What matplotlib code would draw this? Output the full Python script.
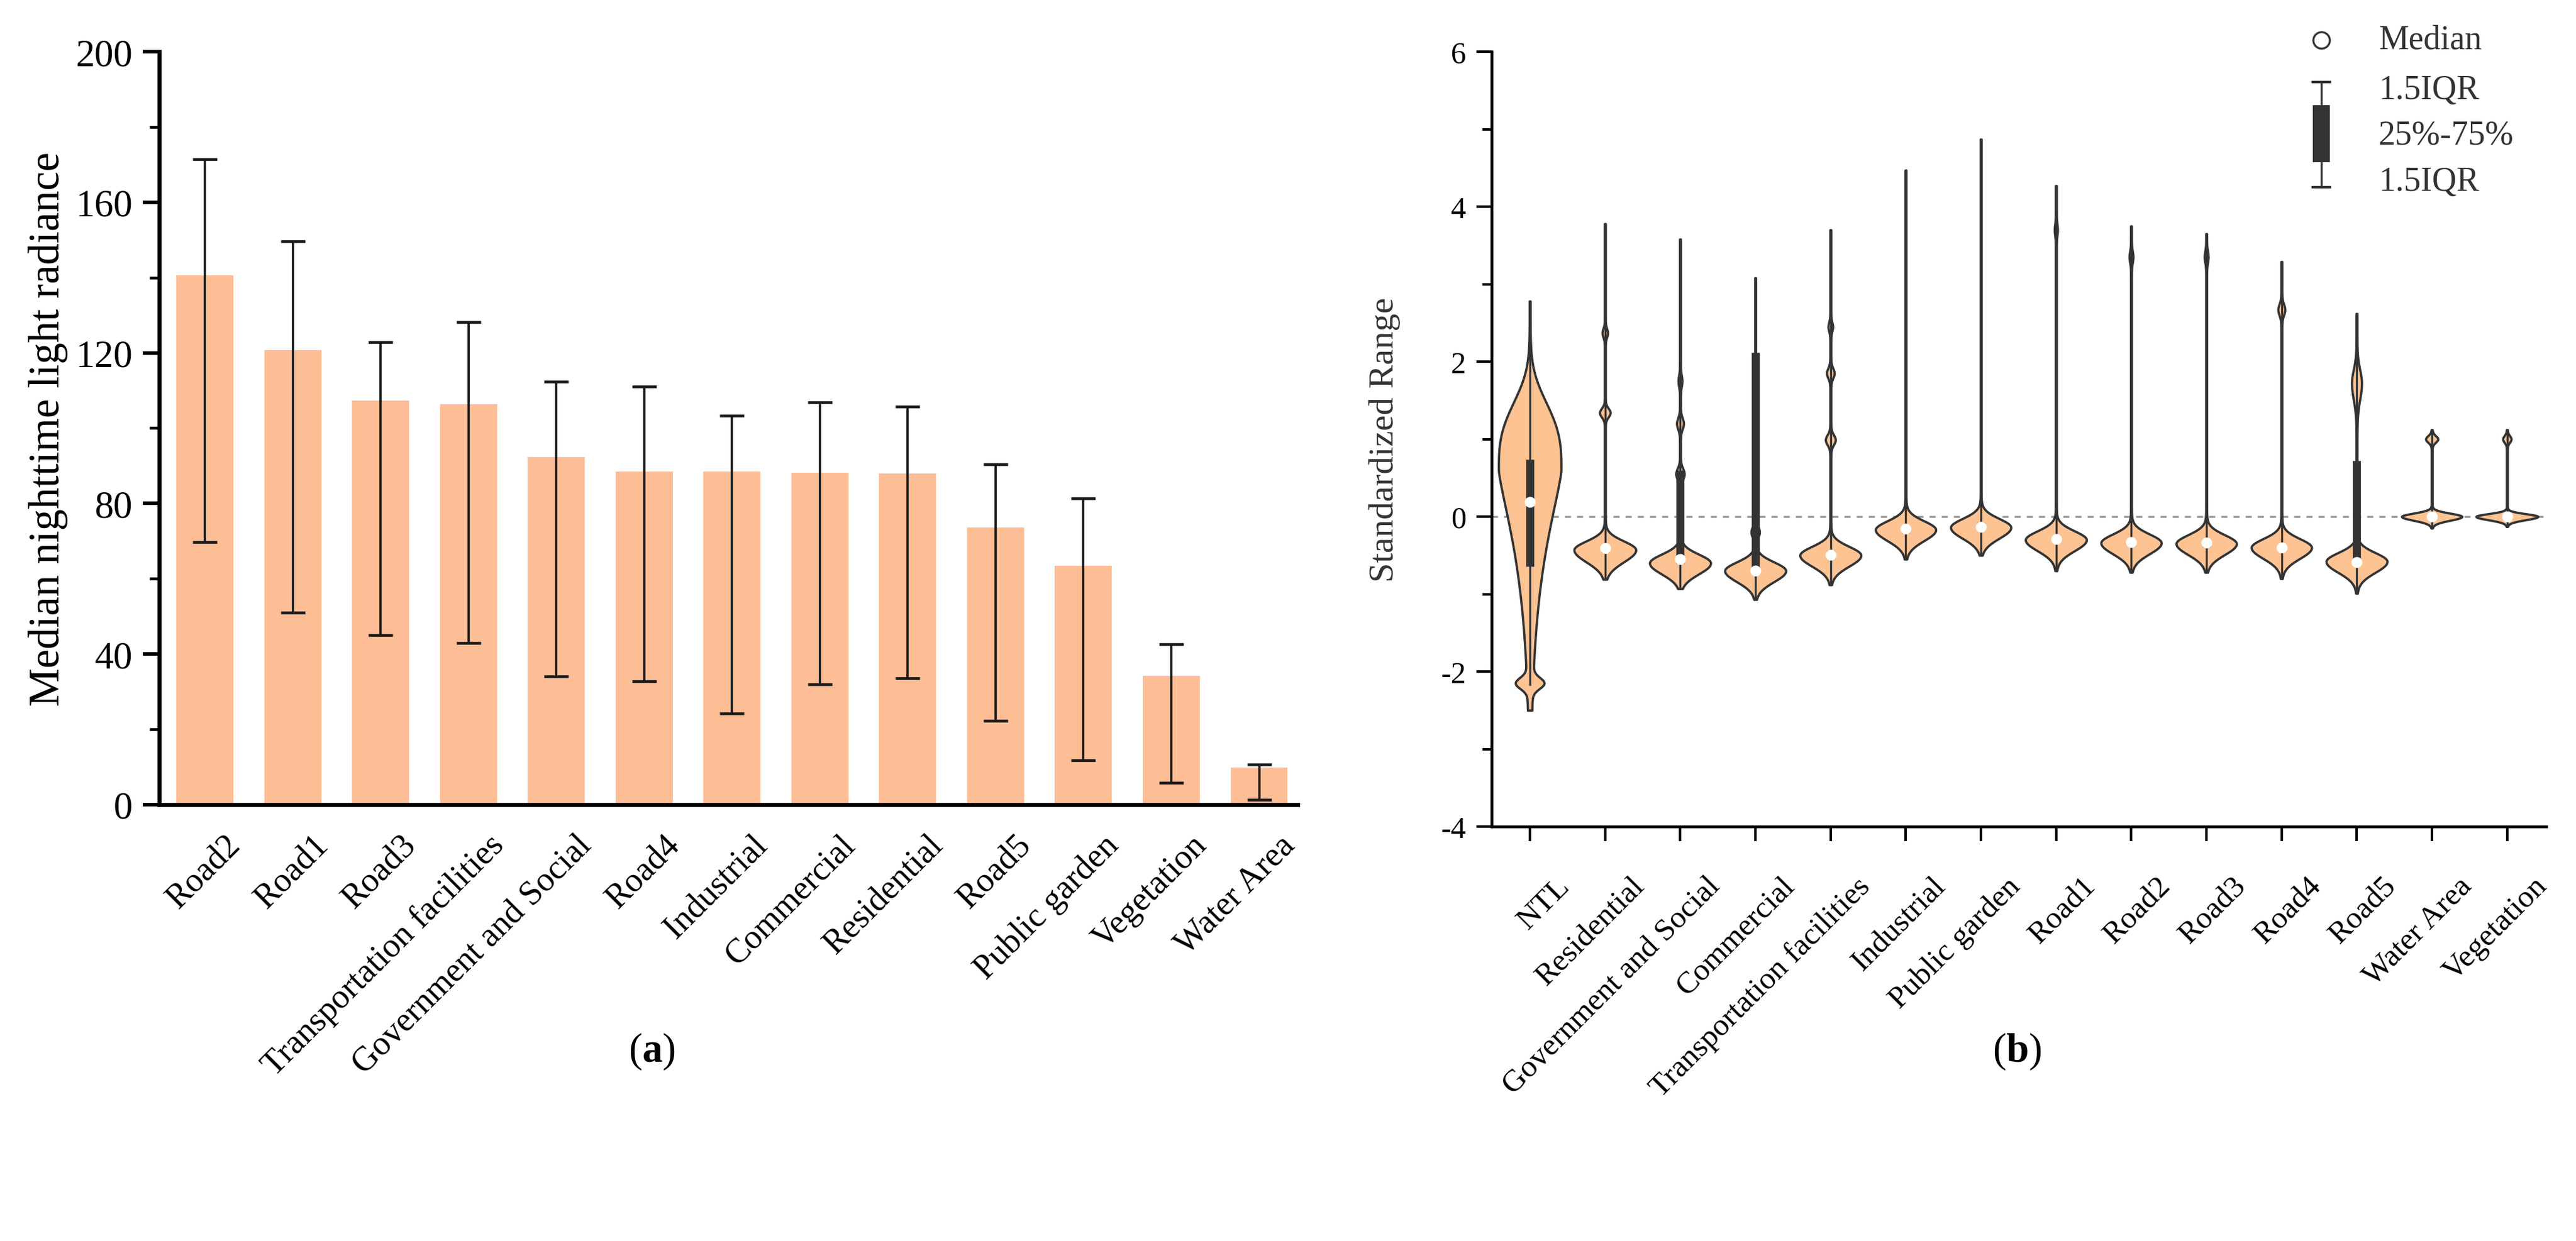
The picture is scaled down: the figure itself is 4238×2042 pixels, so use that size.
import numpy as np
import matplotlib.pyplot as plt
from matplotlib.patches import Rectangle
from matplotlib.transforms import ScaledTranslation

plt.rcParams['font.family'] = ['Liberation Serif', 'DejaVu Serif']
plt.rcParams['mathtext.fontset'] = 'custom'
plt.rcParams['mathtext.rm'] = 'Liberation Serif'
plt.rcParams['mathtext.bf'] = 'Liberation Serif:bold'
plt.rcParams['axes.unicode_minus'] = False

# (a) median nighttime light radiance per land use
bar_labels = ['Road2', 'Road1', 'Road3', 'Transportation facilities', 'Government and Social',
              'Road4', 'Industrial', 'Commercial', 'Residential', 'Road5', 'Public garden',
              'Vegetation', 'Water Area']
bar_values = [140.6, 120.7, 107.3, 106.4, 92.3, 88.4, 88.4, 88.2, 87.9, 73.6, 63.4, 34.2, 9.9]
err_low = [69.8, 51.0, 45.0, 43.0, 34.0, 32.8, 24.2, 32.0, 33.6, 22.3, 11.8, 5.8, 1.2]
err_high = [171.4, 149.7, 122.8, 128.2, 112.3, 111.1, 103.3, 106.8, 105.8, 90.4, 81.3, 42.6, 10.6]

# (b) standardized distributions (violins)
vio_labels = ['NTL', 'Residential', 'Government and Social', 'Commercial',
              'Transportation facilities', 'Industrial', 'Public garden', 'Road1', 'Road2',
              'Road3', 'Road4', 'Road5', 'Water Area', 'Vegetation']
vio_median = [0.19, -0.41, -0.55, -0.70, -0.49, -0.16, -0.13, -0.29, -0.33, -0.34, -0.40, -0.59, 0.0, 0.0]
vio_q1 = [-0.64, -0.46, -0.60, -0.67, -0.54, -0.21, -0.18, -0.34, -0.38, -0.39, -0.45, -0.61, -0.03, -0.03]
vio_q3 = [0.74, -0.37, 0.60, 2.12, -0.44, -0.11, -0.08, -0.24, -0.28, -0.29, -0.35, 0.72, 0.03, 0.03]
whisk_lo = [-2.18, -0.81, -0.93, -1.07, -0.88, -0.55, -0.50, -0.70, -0.72, -0.72, -0.80, -0.99, -0.15, -0.13]
whisk_hi = [2.78, 3.78, 3.58, 3.08, 3.70, 4.47, 4.87, 4.27, 3.75, 3.65, 3.29, 2.62, 1.10, 1.10]
vio_min = [-2.50, -0.81, -0.93, -1.07, -0.88, -0.55, -0.50, -0.70, -0.72, -0.72, -0.80, -0.99, -0.15, -0.13]
vio_max = [2.78, 3.78, 3.58, 3.08, 3.70, 4.47, 4.87, 4.27, 3.75, 3.65, 3.29, 2.62, 1.12, 1.12]
# density lobes: (centre, full width, reach below, reach above[, power below, power above])
vio_lobes = [
    [(0.60, 0.82, 1.38, 1.00, 1.3, 3.0), (-2.15, 0.30, 0.10, 0.10)],
    [(-0.43, 0.81, 0.22, 0.16), (1.34, 0.13, 0.08, 0.08), (2.37, 0.06, 0.08, 0.08)],
    [(-0.60, 0.80, 0.20, 0.16), (0.55, 0.10, 0.10, 0.10), (1.20, 0.08, 0.10, 0.10), (1.75, 0.04, 0.10, 0.10)],
    [(-0.70, 0.80, 0.20, 0.16), (-0.20, 0.10, 0.10, 0.10)],
    [(-0.50, 0.80, 0.20, 0.16), (0.99, 0.12, 0.09, 0.09), (1.85, 0.09, 0.09, 0.09), (2.45, 0.05, 0.08, 0.08)],
    [(-0.17, 0.79, 0.20, 0.16)],
    [(-0.14, 0.79, 0.20, 0.16)],
    [(-0.30, 0.80, 0.20, 0.16), (3.70, 0.03, 0.10, 0.10)],
    [(-0.34, 0.79, 0.20, 0.16), (3.35, 0.04, 0.10, 0.10)],
    [(-0.35, 0.79, 0.20, 0.16), (3.35, 0.04, 0.10, 0.10)],
    [(-0.40, 0.79, 0.20, 0.16), (2.67, 0.08, 0.10, 0.10)],
    [(-0.58, 0.80, 0.20, 0.16), (1.72, 0.12, 0.30, 0.25)],
    [(0.00, 0.79, 0.07, 0.06), (1.00, 0.15, 0.06, 0.06)],
    [(0.00, 0.81, 0.06, 0.05), (1.00, 0.10, 0.06, 0.06)],
]

bar_color = '#FDBE96'
vio_color = '#FDC393'
edge = '#333333'


def lobe_profile(grid, lobes):
    dens = np.full_like(grid, 0.012)
    for lb in lobes:
        c, w, s_lo, s_hi = lb[:4]
        p_lo, p_hi = (lb[4], lb[5]) if len(lb) > 4 else (2.0, 2.0)
        d = grid - c
        s = np.where(d < 0, s_lo, s_hi)
        p = np.where(d < 0, p_lo, p_hi)
        dens += w * np.exp(-(np.abs(d) / s) ** p)
    return dens


def shift_labels(ax, fig, dx_pt):
    off = ScaledTranslation(dx_pt / 72, 0, fig.dpi_scale_trans)
    for lab in ax.get_xticklabels():
        lab.set_transform(lab.get_transform() + off)


fig = plt.figure(figsize=(4238 / 300, 2043 / 300), dpi=300)

# ---- panel (a)
ax1 = fig.add_axes([0.0618, 0.3515, 0.4420, 0.6064])
x1 = np.arange(len(bar_labels))
vals = np.array(bar_values)
yerr = [vals - np.array(err_low), np.array(err_high) - vals]
ax1.bar(x1, vals, width=0.65, color=bar_color, zorder=1)
ax1.errorbar(x1, vals, yerr=yerr, fmt='none', ecolor='#1a1a1a', elinewidth=0.9,
             capsize=4.8, capthick=1.1, zorder=2)
ax1.set_xlim(-0.52, 12.44)
ax1.set_ylim(0, 200)
ax1.set_yticks(np.arange(0, 201, 40))
ax1.set_yticks(np.arange(20, 200, 40), minor=True)
ax1.set_xticks(x1)
ax1.set_xticklabels(bar_labels, rotation=45, ha='right', va='center', rotation_mode='anchor')
ax1.tick_params(axis='x', length=0, pad=14, labelsize=13.5)
ax1.tick_params(axis='y', which='major', length=6.5, width=1.4, labelsize=15, pad=4)
ax1.tick_params(axis='y', which='minor', length=3.8, width=1.1)
for s in ['top', 'right']:
    ax1.spines[s].set_visible(False)
for s in ['left', 'bottom']:
    ax1.spines[s].set_linewidth(1.6)
ax1.set_ylabel('Median nighttime light radiance', fontsize=17, labelpad=3)
shift_labels(ax1, fig, 12)

# ---- panel (b)
ax2 = fig.add_axes([0.5790, 0.3338, 0.4094, 0.6241])
pos = np.arange(len(vio_labels))
stats, widths = [], []
for i in range(len(vio_labels)):
    grid = np.linspace(vio_min[i], vio_max[i], 600)
    dens = lobe_profile(grid, vio_lobes[i])
    stats.append(dict(coords=grid, vals=dens, mean=vio_median[i], median=vio_median[i],
                      min=vio_min[i], max=vio_max[i]))
    widths.append(dens.max())
parts = ax2.violin(stats, positions=pos, widths=widths, showmeans=False,
                   showextrema=False, showmedians=False)
for body in parts['bodies']:
    body.set_facecolor(vio_color)
    body.set_edgecolor(edge)
    body.set_linewidth(0.9)
    body.set_alpha(1)
    body.set_zorder(2)
ax2.vlines(pos, whisk_lo, whisk_hi, color=edge, lw=0.8, zorder=3)
ax2.vlines(pos, vio_q1, vio_q3, color=edge, lw=3.2, zorder=4)
ax2.plot(pos, vio_median, 'o', ms=3.3, mfc='white', mec='white', zorder=5)
ax2.axhline(0, color='#9a9a9a', lw=0.8, dashes=(3, 3), zorder=1)

ax2.set_xlim(-0.51, 13.52)
ax2.set_ylim(-4, 6)
ax2.set_yticks(np.arange(-4, 7, 2))
ax2.set_yticks(np.arange(-3, 6, 2), minor=True)
ax2.set_xticks(pos)
ax2.set_xticklabels(vio_labels, rotation=45, ha='right', va='center', rotation_mode='anchor')
ax2.tick_params(axis='x', length=5.8, width=1.0, pad=16, labelsize=12.3)
ax2.tick_params(axis='y', which='major', length=6, width=1.0, labelsize=12, pad=4)
ax2.tick_params(axis='y', which='minor', length=3.5, width=1.0)
for s in ['top', 'right']:
    ax2.spines[s].set_visible(False)
for s in ['left', 'bottom']:
    ax2.spines[s].set_linewidth(1.1)
ax2.set_ylabel('Standardized Range', fontsize=14, labelpad=16, color='#333333')
shift_labels(ax2, fig, 14)

# legend glyphs for panel (b)
tr = ax2.transAxes
ax2.plot([0.787], [1.015], 'o', ms=6.5, mfc='white', mec=edge, mew=0.8,
         transform=tr, clip_on=False)
ax2.plot([0.787, 0.787], [0.825, 0.961], color=edge, lw=0.8, transform=tr, clip_on=False)
for yc in (0.825, 0.961):
    ax2.plot([0.779, 0.795], [yc, yc], color=edge, lw=1.0, transform=tr, clip_on=False)
ax2.add_patch(Rectangle((0.779, 0.857), 0.016, 0.074, transform=tr, facecolor=edge,
                        edgecolor='none', clip_on=False, zorder=6))
for txt, yb in [('Median', 1.0047), ('1.5IQR', 0.940), ('25%-75%', 0.881), ('1.5IQR', 0.821)]:
    ax2.text(0.841, yb, txt, transform=tr, fontsize=13.4, color='#333333',
             ha='left', va='baseline', clip_on=False)

fig.text(0.253, 0.153, r'($\mathbf{a}$)', ha='center', va='center', fontsize=16)
fig.text(0.783, 0.153, r'($\mathbf{b}$)', ha='center', va='center', fontsize=16)

fig.savefig('out.png', dpi=300)
